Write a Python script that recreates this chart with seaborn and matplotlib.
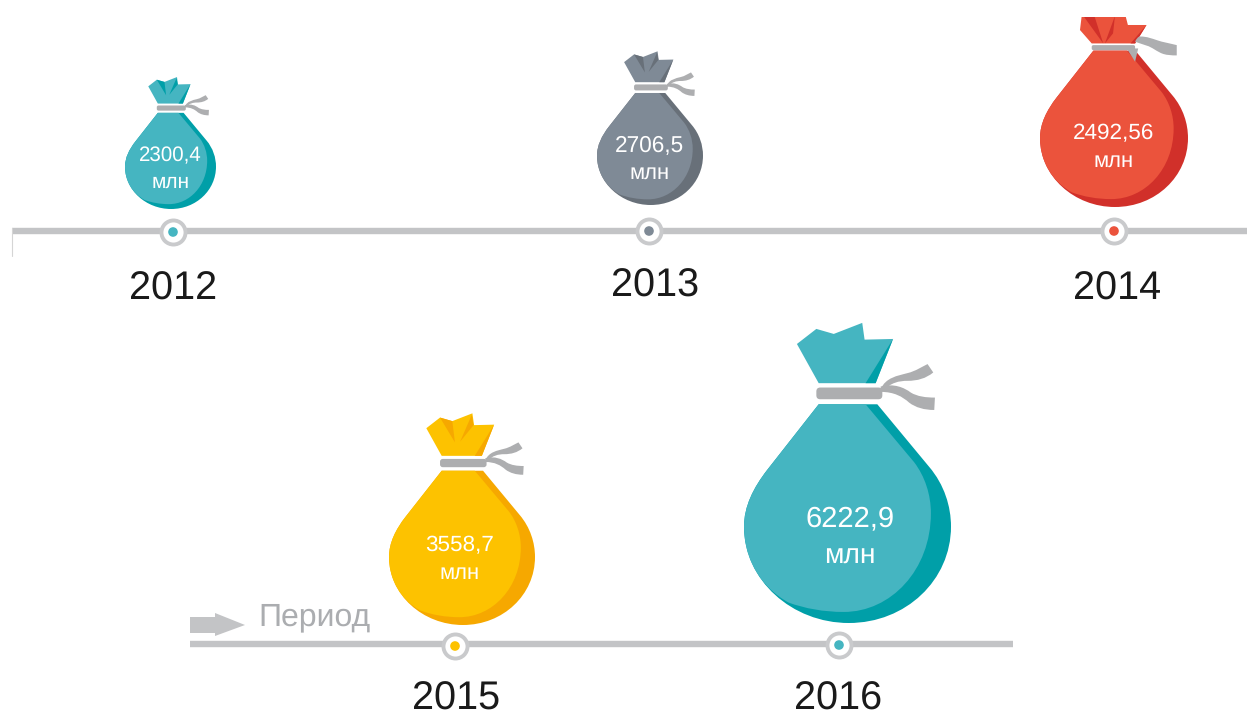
#! /usr/bin/env python
# -*- coding: utf-8 -*-

"""Money bags on two timelines, one bag per year."""

import matplotlib
matplotlib.use('Agg')
from matplotlib import pyplot as plt
from matplotlib.patches import PathPatch, Polygon, FancyBboxPatch, Rectangle
from matplotlib.path import Path
import pandas as pd
import seaborn as sns

sns.set_style('white')
plt.rcParams['font.family'] = ['Liberation Sans', 'DejaVu Sans']
plt.rcParams['text.hinting'] = 'no_hinting'

# data
years = ['2012', '2013', '2014', '2015', '2016']
values = [2300.4, 2706.5, 2492.56, 3558.7, 6222.9]
unit = 'млн'
period_label = 'Период'

# colours, light and dark side of each bag
light = ['#45B5C1', '#7F8A96', '#EB533C', '#FDC200', '#45B5C1']
dark = ['#009FA8', '#687079', '#D1302A', '#F6A800', '#009FA8']
line_grey = '#C3C4C6'
tie_grey = '#ADAEB0'

# layout in pixels of the picture
bag_left = [125, 597, 1040, 389, 744]
bag_bottom = [209, 205, 207, 625, 623]
bag_width = [91, 106, 148, 146, 207]
bag_clip = [0, 0, 17, 0, 0]
value_y = [156, 146, 133, 545, 519]
unit_y = [182, 173, 161, 573, 556]
text_x = [170.5, 649.5, 1113.5, 460, 850]
value_size = [14.8, 16.3, 16.2, 16.2, 21]
unit_size = [15, 15.8, 15.8, 15.8, 20.3]
ring_x = [173, 649, 1114, 455, 839]
ring_y = [232, 231, 231, 646, 645]
year_x = [173, 655, 1117, 456, 838]
year_base = [300, 297, 300, 710, 710]

# bag outline, in the units of a drawing 618 wide and 896 high
M, L, C, Z = Path.MOVETO, Path.LINETO, Path.CURVE4, Path.CLOSEPOLY
outer = [(M, (265, 285)), (L, (112, 480)), (C, (70, 534)), (C, (42, 590)), (C, (42, 650)),
         (C, (42, 810)), (C, (185, 938)), (C, (355, 938)),
         (C, (525, 938)), (C, (660, 810)), (C, (660, 650)),
         (C, (660, 590)), (C, (640, 525)), (C, (595, 472)),
         (L, (440, 285)), (Z, (265, 285))]
inner = [(M, (265, 285)), (L, (405, 285)), (L, (550, 458)),
         (C, (582, 500)), (C, (600, 555)), (C, (600, 610)),
         (C, (600, 780)), (C, (480, 905)), (C, (340, 905)),
         (C, (280, 905)), (C, (225, 895)), (C, (175, 877)),
         (C, (90, 830)), (C, (42, 745)), (C, (42, 650)),
         (C, (42, 590)), (C, (70, 534)), (C, (112, 480)), (Z, (265, 285))]

knot = [(265, 222), (200, 105), (258, 60), (310, 75), (395, 42), (402, 92), (487, 90), (435, 222)]
pleats = [[(258, 60), (310, 75), (321, 165)], [(392, 49), (343, 162), (400, 92)]]
fold = [(405, 222), (487, 90), (435, 222)]
tie_up = [(M, (450, 240)), (C, (465, 205)), (C, (500, 200)), (C, (530, 192)),
          (C, (555, 186)), (C, (575, 172)), (C, (590, 165)), (L, (607, 190)),
          (C, (585, 208)), (C, (560, 215)), (C, (530, 215)),
          (C, (505, 215)), (C, (480, 220)), (C, (458, 245)), (Z, (450, 240))]
tie_low = [(M, (450, 232)), (C, (490, 222)), (C, (520, 235)), (C, (540, 250)),
           (C, (560, 262)), (C, (585, 265)), (C, (612, 265)), (L, (610, 302)),
           (C, (580, 302)), (C, (555, 295)), (C, (535, 280)),
           (C, (515, 262)), (C, (490, 248)), (C, (450, 248)), (Z, (450, 232))]
band = (258, 235, 455, 270)

# the 2014 bag is tied differently
knot_red = [(258, 255), (209, 199), (221, 100), (389, 100), (409, 178), (487, 178), (439, 255)]
pleats_red = [[(223, 140), (269, 140), (306, 255)], [(355, 140), (313, 255), (347, 213)]]
fold_red = [(420, 255), (487, 178), (439, 255)]
hang_red = [(404, 276), (452, 276), (439, 331)]
tie_red = [(M, (439, 248)), (C, (445, 235)), (C, (452, 226)), (C, (460, 226)),
           (C, (490, 226)), (C, (510, 235)), (C, (529, 241)),
           (C, (555, 250)), (C, (585, 255)), (C, (613, 262)), (L, (613, 305)),
           (C, (590, 305)), (C, (575, 304)), (C, (557, 299)),
           (C, (530, 290)), (C, (510, 270)), (C, (487, 264)), (Z, (439, 248))]
band_red = (258, 262, 439, 283)


def draw_bag(ax, left, bottom, width, clip, col_light, col_dark, red=False):
    scale = width / 618.0

    def tr(pt):
        return (left + (pt[0] - 42) * scale, bottom + (pt[1] - 938) * scale)

    def curve(shape, col, z):
        path = Path([tr(p) for _, p in shape], [c for c, _ in shape])
        return PathPatch(path, fc=col, ec='none', zorder=z)

    def flat(pts, col, z):
        return Polygon([tr(p) for p in pts], fc=col, ec='none', zorder=z)

    patches = [curve(outer, col_dark, 3), curve(inner, col_light, 4)]
    if red:
        patches.append(flat(knot_red, col_light, 3))
        patches += [flat(p, col_dark, 4) for p in pleats_red]
        patches.append(flat(fold_red, col_dark, 4))
        patches.append(flat(hang_red, tie_grey, 5))
        patches.append(curve(tie_red, tie_grey, 5))
        box = band_red
    else:
        patches.append(flat(knot, col_light, 3))
        if width < 200:
            patches += [flat(p, col_dark, 4) for p in pleats]
        patches.append(flat(fold, col_dark, 4))
        patches.append(curve(tie_up, tie_grey, 4))
        patches.append(curve(tie_low, tie_grey, 4))
        box = band
    x0, y0 = tr(box[:2])
    x1, y1 = tr(box[2:])
    patches.append(FancyBboxPatch((x0, y0), x1 - x0, y1 - y0,
                                  boxstyle='round,pad=0,rounding_size=%f' % ((y1 - y0) / 3.0),
                                  fc=tie_grey, ec='none', zorder=5))
    window = Rectangle((0, clip), 1247, 713, transform=ax.transData)
    for p in patches:
        ax.add_patch(p)
        p.set_clip_path(window)


def main():
    fig = plt.figure(figsize=(12.47, 7.13), dpi=100)
    ax = fig.add_axes([0, 0, 1, 1])

    # timelines
    lines = pd.DataFrame({'x': [12, 1247, 190, 1013], 'y': [231, 231, 644, 644], 'row': [0, 0, 1, 1]})
    sns.lineplot(data=lines, x='x', y='y', units='row', estimator=None, color=line_grey,
                 linewidth=4.6, solid_capstyle='butt', legend=False, ax=ax, zorder=1)
    ax.plot([12, 12], [228, 256], color='#D5D5D5', linewidth=0.8, zorder=1)

    # rings on the timelines
    marks = pd.DataFrame({'x': ring_x, 'y': ring_y, 'year': years})
    sns.scatterplot(data=marks, x='x', y='y', s=300, color='white', edgecolor='#C9CACC',
                    linewidth=2.8, legend=False, ax=ax, zorder=2)
    sns.scatterplot(data=marks, x='x', y='y', hue='year', palette=light, s=48, linewidth=0,
                    legend=False, ax=ax, zorder=3)

    for i, year in enumerate(years):
        draw_bag(ax, bag_left[i], bag_bottom[i], bag_width[i], bag_clip[i], light[i], dark[i],
                 red=(year == '2014'))
        ax.text(text_x[i], value_y[i], str(values[i]).replace('.', ','), color='white',
                fontsize=value_size[i], ha='center', va='center', zorder=6)
        ax.text(text_x[i], unit_y[i], unit, color='white', fontsize=unit_size[i],
                ha='center', va='center', zorder=6)
        ax.text(year_x[i], year_base[i], year, color='#1A1A1A', fontsize=28.5,
                ha='center', va='baseline', zorder=6)

    # period arrow
    ax.add_patch(Polygon([(190, 617), (215, 617), (215, 613), (245, 625), (215, 636),
                          (215, 633), (190, 633)], fc=line_grey, ec='none', zorder=2))
    ax.text(314.5, 617, period_label, color='#ABADB0', fontsize=23, ha='center', va='center')

    ax.set_xlim(0, 1247)
    ax.set_ylim(713, 0)
    ax.set_axis_off()
    fig.savefig('out.png', dpi=100, facecolor='white')
    plt.close(fig)


if __name__ == '__main__':
    main()
